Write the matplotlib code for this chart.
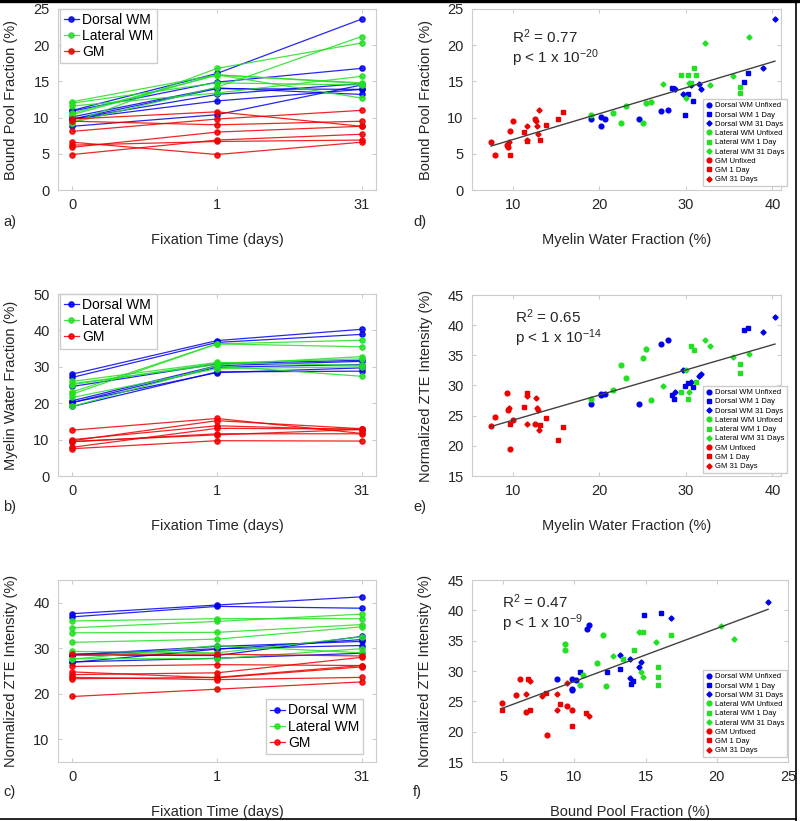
import numpy as np
import matplotlib.pyplot as plt
from matplotlib.lines import Line2D

plt.rcParams['font.family'] = ['Liberation Sans', 'DejaVu Sans']
plt.rcParams['mathtext.fontset'] = 'custom'
plt.rcParams['mathtext.rm'] = 'Liberation Sans'
plt.rcParams['mathtext.it'] = 'Liberation Sans:italic'

# fixation time points and labels
times = ['0', '1', '31']
time_names = ['Unfixed', '1 Day', '31 Days']
tissues = ['Dorsal WM', 'Lateral WM', 'GM']

# each row = one sample, columns = 0, 1, 31 days
mwf_dorsal = np.array([[28.0, 37.2, 40.3], [27.1, 36.7, 38.9], [24.6, 30.8, 31.8], [20.7, 30.3, 31.5],
                       [20.2, 29.9, 30.6], [20.2, 28.4, 29.7], [19.1, 28.6, 28.8]])
bpf_dorsal = np.array([[11.0, 16.1, 23.6], [10.9, 14.9, 16.8], [9.8, 12.3, 13.9], [9.8, 13.2, 14.7],
                       [8.8, 10.4, 14.5], [10.1, 14.1, 13.2], [9.8, 14.0, 13.9]])
zte_dorsal = np.array([[37.6, 39.5, 41.3], [36.9, 39.2, 38.8], [26.9, 29.8, 31.9], [28.6, 30.4, 31.5],
                       [28.6, 29.9, 30.6], [28.5, 28.4, 32.6], [27.0, 27.8, 28.9]])

mwf_lateral = np.array([[22.5, 36.3, 37.3], [23.1, 36.3, 35.5], [25.1, 31.0, 32.2], [25.4, 30.6, 32.8],
                        [19.1, 30.3, 27.4], [21.6, 29.5, 30.0], [26.0, 31.2, 30.4]])
bpf_lateral = np.array([[9.3, 14.2, 21.2], [11.6, 13.4, 15.7], [9.3, 16.8, 20.3], [12.0, 14.8, 14.5],
                        [10.4, 15.9, 14.7], [10.6, 15.9, 12.7], [12.2, 15.9, 14.8]])
zte_lateral = np.array([[33.4, 33.5, 35.2], [31.3, 32.0, 34.7], [34.5, 35.9, 37.5], [36.0, 36.5, 36.5],
                        [27.7, 27.7, 29.9], [29.3, 29.0, 32.5], [27.6, 30.6, 29.0]])

mwf_gm = np.array([[7.5, 9.7, 9.6], [7.9, 13.1, 12.9], [9.4, 11.6, 11.6], [9.5, 11.3, 12.8],
                   [10.0, 13.8, 12.7], [12.6, 15.8, 11.7], [9.7, 15.2, 13.0]])
bpf_gm = np.array([[6.6, 4.9, 6.6], [4.9, 6.9, 7.7], [6.2, 6.7, 6.9], [5.9, 8.0, 8.8],
                   [9.5, 9.0, 9.5], [9.8, 10.8, 8.8], [8.1, 9.8, 11.0]])
zte_gm = np.array([[23.3, 23.6, 26.2], [24.8, 23.5, 25.9], [28.7, 28.7, 28.3], [26.0, 26.4, 26.2],
                   [24.2, 24.6, 28.0], [23.6, 23.1, 23.6], [19.4, 21.0, 22.6]])

fit_text = [('0.77', '-20'), ('0.65', '-14'), ('0.47', '-9')]

colors = ['#0000ee', '#22e022', '#ee0000']
markers = ['o', 's', 'D']
msizes = [3.4, 2.6, 2.6]
mwf = [mwf_dorsal, mwf_lateral, mwf_gm]
bpf = [bpf_dorsal, bpf_lateral, bpf_gm]
zte = [zte_dorsal, zte_lateral, zte_gm]

spine_c = '#cccccc'
text_c = '#262626'

W, H = 800, 821
fig = plt.figure(figsize=(8, 8.21), dpi=100)


def box(l, r, t, b):
    return [l / W, 1 - b / H, (r - l) / W, (b - t) / H]


def style(ax):
    for s in ax.spines.values():
        s.set_color(spine_c)
        s.set_linewidth(0.8)
    ax.tick_params(direction='in', length=3, color=spine_c, labelcolor=text_c, labelsize=10.5,
                   top=True, right=True, pad=6)


# left column: line plots
left_axes = [fig.add_axes(box(58, 376, 9, 190)),
             fig.add_axes(box(58, 376, 294, 476)),
             fig.add_axes(box(58, 376, 580, 762))]
left_data = [bpf, mwf, zte]
left_ylabels = ['Bound Pool Fraction (%)', 'Myelin Water Fraction (%)', 'Normalized ZTE Intensity (%)']
left_ylims = [(0, 25), (0, 50), (5, 45)]
left_yticks = [np.arange(0, 26, 5), np.arange(0, 51, 10), np.arange(10, 41, 10)]

for ax, data, yl, ylim, yt in zip(left_axes, left_data, left_ylabels, left_ylims, left_yticks):
    for k in range(3):
        for j, row in enumerate(data[k]):
            ax.plot(range(3), row, color=colors[k], marker='o', ms=3.8, lw=0.9, alpha=0.85,
                    label=tissues[k] if j == 0 else None)
    ax.set_xlim(-0.1, 2.1)
    ax.set_ylim(*ylim)
    ax.set_yticks(yt)
    ax.set_xticks(range(3))
    ax.set_xticklabels(times)
    ax.set_xlabel('Fixation Time (days)', fontsize=10.5, color=text_c)
    ax.set_ylabel(yl, fontsize=10.5, color=text_c)
    ax.xaxis.set_label_coords(0.5, -0.235)
    ax.yaxis.set_label_coords(-0.125, 0.5)
    style(ax)

leg_kw = dict(fontsize=10, fancybox=False, framealpha=1, edgecolor=spine_c, handlelength=1.1,
              handletextpad=0.2, labelspacing=0.15, borderpad=0.3)
left_axes[0].legend(loc='upper left', bbox_to_anchor=(0.005, 1.0), borderaxespad=0, **leg_kw)
left_axes[1].legend(loc='upper left', bbox_to_anchor=(0.005, 1.0), borderaxespad=0, **leg_kw)
left_axes[2].legend(loc='lower right', bbox_to_anchor=(0.96, 0.045), borderaxespad=0, **leg_kw)

# right column: scatter plots with linear fit
right_axes = [fig.add_axes(box(472, 781, 9, 190)),
              fig.add_axes(box(472, 781, 295, 476)),
              fig.add_axes(box(472, 788, 580, 762))]
pairs = [(mwf, bpf), (mwf, zte), (bpf, zte)]
right_xlabels = ['Myelin Water Fraction (%)', 'Myelin Water Fraction (%)', 'Bound Pool Fraction (%)']
right_ylabels = ['Bound Pool Fraction (%)', 'Normalized ZTE Intensity (%)', 'Normalized ZTE Intensity (%)']
right_xlims = [(5.3, 41), (5.3, 41), (2.8, 25)]
right_ylims = [(0, 25), (15, 45), (15, 45)]
right_xticks = [np.arange(10, 41, 10), np.arange(10, 41, 10), np.arange(5, 26, 5)]
right_yticks = [np.arange(0, 26, 5), np.arange(15, 46, 5), np.arange(15, 46, 5)]
txt_pos = [(0.13, 0.845, 0.73), (0.139, 0.878, 0.762), (0.095, 0.879, 0.764)]
leg_anchor = [(1.019, 0.022), (1.019, 0.017), (0.997, 0.027)]

for i, ax in enumerate(right_axes):
    xs, ys = pairs[i]
    allx, ally = [], []
    for k in range(3):
        for t in range(3):
            ax.plot(xs[k][:, t], ys[k][:, t], ls='none', marker=markers[t], color=colors[k],
                    ms=msizes[t], label=tissues[k] + ' ' + time_names[t])
            allx.extend(xs[k][:, t])
            ally.extend(ys[k][:, t])
    allx, ally = np.array(allx), np.array(ally)
    m, c = np.polyfit(allx, ally, 1)
    xl = np.array([allx.min(), allx.max()])
    ax.plot(xl, m * xl + c, color='#404040', lw=1.0)
    r2, pe = fit_text[i]
    tx, ty1, ty2 = txt_pos[i]
    ax.text(tx, ty1, r'R$^2$ = ' + r2, transform=ax.transAxes, fontsize=11, color=text_c, va='center')
    ax.text(tx, ty2, r'p < 1 x 10$^{' + pe + '}$', transform=ax.transAxes, fontsize=11, color=text_c,
            va='center')
    ax.set_xlim(*right_xlims[i])
    ax.set_ylim(*right_ylims[i])
    ax.set_xticks(right_xticks[i])
    ax.set_yticks(right_yticks[i])
    ax.set_xlabel(right_xlabels[i], fontsize=10.5, color=text_c)
    ax.set_ylabel(right_ylabels[i], fontsize=10.5, color=text_c)
    ax.xaxis.set_label_coords(0.5, -0.235)
    ax.yaxis.set_label_coords(-0.125, 0.5)
    style(ax)
    ax.legend(loc='lower right', bbox_to_anchor=leg_anchor[i], borderaxespad=0, fontsize=5.5,
              fancybox=False, framealpha=1, edgecolor=spine_c, handlelength=0.8, handletextpad=0.4,
              labelspacing=0.25, borderpad=0.35)

# panel letters
for lab, x, y in [('a)', 3, 222), ('b)', 3, 507), ('c)', 3, 792),
                  ('d)', 413, 222), ('e)', 413, 507), ('f)', 413, 792)]:
    fig.text(x / W, 1 - y / H, lab, fontsize=10.5, color=text_c, va='center')

# black frame around the figure (top, right, bottom)
fig.add_artist(Line2D([0, 1], [1 - 1.5 / H, 1 - 1.5 / H], color='black', lw=2.4))
fig.add_artist(Line2D([796 / W, 796 / W], [0, 1], color='black', lw=1.2))
fig.add_artist(Line2D([0, 796 / W], [2.5 / H, 2.5 / H], color='black', lw=1.2))

fig.savefig('out.png', dpi=100, facecolor='white')
